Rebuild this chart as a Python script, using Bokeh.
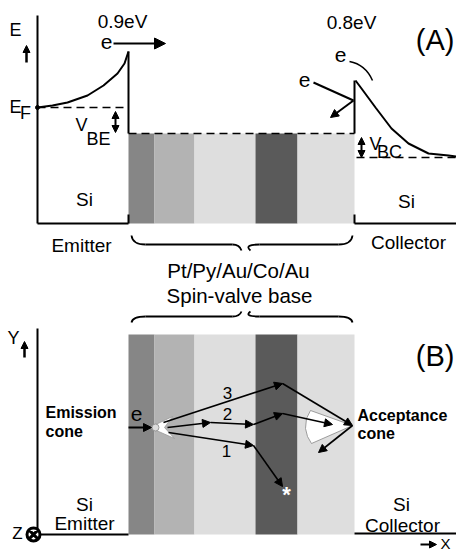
from bokeh.plotting import figure
from bokeh.models import Range1d, Arrow, NormalHead, ColumnDataSource
from bokeh.core.properties import value
from bokeh.embed import file_html
from bokeh.resources import INLINE

FONT = "Liberation Sans"

# ---- schematic values (in picture pixels) ----
LAYER_NAMES = ["Pt", "Py", "Au", "Co", "Au"]
LAYER_LEFT = [128, 154, 194, 255, 297]
LAYER_RIGHT = [154, 194, 255, 297, 354]
LAYER_COLORS = ["#868686", "#b3b3b3", "#dedede", "#5a5a5a", "#dedede"]
PANEL_A_TOP, PANEL_A_BOTTOM = 133, 223
PANEL_B_TOP, PANEL_B_BOTTOM = 334, 534

EMITTER_CURVE_X = [37, 52, 67, 87, 103, 117, 124, 128]
EMITTER_CURVE_Y = [107, 105, 102, 95, 85, 73, 63, 51]
COLLECTOR_CURVE_X = [355, 361, 375, 391, 408, 428, 448, 456]
COLLECTOR_CURVE_Y = [80, 88, 107, 128, 143, 153, 155, 156]

PATH3_X = [163, 282, 352]
PATH3_Y = [422, 383, 425]
PATH2_X = [167, 210, 253, 282, 332]
PATH2_Y = [427, 422, 424, 413, 424]
PATH1_X = [168, 253, 282]
PATH1_Y = [432, 445, 486]

W, H = 456, 552
p = figure(width=W, height=H, x_range=Range1d(0, W), y_range=Range1d(H, 0),
           output_backend="svg", toolbar_location=None, min_border=0,
           x_axis_type=None, y_axis_type=None, outline_line_color=None,
           background_fill_color="white", border_fill_color="white")
p.grid.visible = False

# ---- layer stacks ----
for top, bot in [(PANEL_A_TOP, PANEL_A_BOTTOM), (PANEL_B_TOP, PANEL_B_BOTTOM)]:
    p.quad(left=LAYER_LEFT, right=LAYER_RIGHT, top=[top] * 5, bottom=[bot] * 5,
           fill_color=LAYER_COLORS, line_color=None)

LW = 2
# ---- panel A frame ----
p.line([37, 37], [15, 223], line_color="black", line_width=LW)
p.line([37, 128], [223, 223], line_color="black", line_width=LW)
p.line([354, 456], [223, 223], line_color="black", line_width=LW)
p.line([128, 128], [214, 223], line_color="black", line_width=LW)
p.line([354, 354], [214, 223], line_color="black", line_width=LW)
p.line(EMITTER_CURVE_X, EMITTER_CURVE_Y, line_color="black", line_width=LW)
p.line([128, 128], [51, 133], line_color="black", line_width=LW)
p.line(COLLECTOR_CURVE_X, COLLECTOR_CURVE_Y, line_color="black", line_width=LW)
p.line([354, 354], [80, 133], line_color="black", line_width=LW)
DASH = "8 5"
p.line([37, 125], [107, 107], line_color="black", line_width=1.6, line_dash=DASH)
p.line([128, 354], [133, 133], line_color="black", line_width=1.6, line_dash=DASH)
p.line([356, 456], [157, 157], line_color="black", line_width=1.6, line_dash=DASH)
p.scatter([37], [107], size=4, color="black")

# ---- panel B frame ----
p.line([37, 37], [328, 534], line_color="black", line_width=LW)
p.line([37, 128], [534, 534], line_color="black", line_width=LW)
p.line([354, 456], [533, 533], line_color="black", line_width=LW)

# ---- braces ----
for y_end, y_flat, y_cusp in [(235, 244, 250), (322, 316, 311)]:
    p.quadratic(x0=[131, 232, 250, 338], y0=[y_end, y_flat, y_cusp, y_flat],
                x1=[145, 241, 259, 352], y1=[y_flat, y_cusp, y_flat, y_end],
                cx=[132, 239, 243, 351], cy=[y_flat, y_flat, y_flat, y_flat],
                line_color="black", line_width=1.8)
    p.line([145, 232], [y_flat, y_flat], line_color="black", line_width=1.8)
    p.line([259, 338], [y_flat, y_flat], line_color="black", line_width=1.8)

# ---- cones ----
p.patch([149, 172, 164, 174], [427, 416, 427, 438], fill_color="white",
        line_color="#999999", line_width=0.8)
p.scatter([155], [427], size=7, fill_color="#dddddd", line_color="#888888", line_width=0.8)
p.patch([352, 310, 306, 305, 307, 311], [425, 410, 418, 428, 436, 443],
        fill_color="white", line_color="#888888", line_width=0.8)

# ---- arrows ----
def add_arrows(xs, ys, size=8, width=1.6, start=False):
    src = ColumnDataSource(dict(x0=xs[:-1], y0=ys[:-1], x1=xs[1:], y1=ys[1:]))
    head = NormalHead(size=size, fill_color="black", line_color="black", line_width=1)
    kw = dict(end=head, x_start="x0", y_start="y0", x_end="x1", y_end="y1",
              source=src, line_color="black", line_width=width)
    if start:
        kw["start"] = NormalHead(size=size, fill_color="black", line_color="black", line_width=1)
    p.add_layout(Arrow(**kw))

add_arrows(PATH3_X, PATH3_Y)
add_arrows(PATH2_X, PATH2_Y)
add_arrows(PATH1_X, PATH1_Y)
add_arrows([352, 318], [425, 452])
add_arrows([128, 151], [427, 427], size=8, width=2)

add_arrows([113, 165], [43, 43], size=11, width=2)
add_arrows([26, 26], [62, 45], size=7, width=2.5)
add_arrows([24, 24], [357, 341], size=7, width=2.5)
add_arrows([115, 115], [111, 132], size=7, width=2, start=True)
add_arrows([361, 361], [137, 157], size=7, width=2, start=True)
p.line([313, 353], [82, 100], line_color="black", line_width=2)
add_arrows([353, 330], [100, 117], size=8, width=2)
p.quadratic(x0=[349], y0=[61], x1=[372], y1=[80], cx=[365], cy=[64],
            line_color="black", line_width=1.5)
add_arrows([420, 436], [544, 544], size=7, width=2)

p.scatter([33], [534], marker="circle_x", size=13, fill_color="white",
          line_color="black", line_width=3)

# ---- texts ----
def txt(xs, ys, labels, size=19, align="center", bold=False, color="black"):
    p.text(x=xs, y=ys, text=labels, text_font=value(FONT),
           text_font_size=value(f"{size}px"), text_align=align, text_baseline="middle",
           text_color=color, text_font_style="bold" if bold else "normal")

txt([122, 351], [21, 22], ["0.9eV", "0.8eV"])
txt([454, 454], [39, 355], ["(A)", "(B)"], size=29, align="right")
txt([106, 340, 304, 136], [41, 54, 79, 413], ["e", "e", "e", "e"], size=21)
txt([15, 15, 13], [29, 106, 337], ["E", "E", "Y"], size=18)
txt([25], [112], ["F"], size=18)
txt([81, 375], [124, 143], ["V", "V"], size=18)
txt([98, 389], [138, 151], ["BE", "BC"], size=18)
txt([84, 406, 84, 401], [199, 201, 504, 504], ["Si", "Si", "Si", "Si"], size=19)
txt([81, 408, 84, 402], [245, 242, 523, 525], ["Emitter", "Collector", "Emitter", "Collector"], size=19)
txt([238, 239], [270, 295], ["Pt/Py/Au/Co/Au", "Spin-valve base"], size=20.5)
txt([17], [533], ["Z"], size=17)
txt([445], [543], ["X"], size=15)
txt([45, 45, 357, 357], [412, 431, 415, 433], ["Emission", "cone", "Acceptance", "cone"],
    size=16, align="left", bold=True)
txt([227, 227, 226], [392, 413, 450], ["3", "2", "1"], size=17)
txt([286], [494], ["*"], size=22, bold=True, color="white")

open("out.html", "w").write(file_html(p, INLINE))
